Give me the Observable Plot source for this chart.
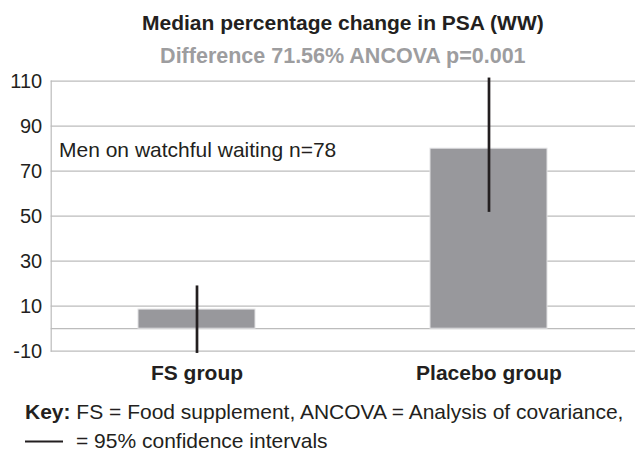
<!DOCTYPE html>
<html>
<head>
<meta charset="utf-8">
<script src="https://cdn.jsdelivr.net/npm/d3@7"></script>
<script src="https://cdn.jsdelivr.net/npm/@observablehq/plot@0.6"></script>
<style>
  html, body { margin: 0; padding: 0; background: #fff; }
  #chart svg { display: block; }
</style>
</head>
<body>
<div id="chart"></div>
<script>
// Data
const groups = ["FS group", "Placebo group"];
const medians = [8.5, 80];
const ciLow = [-11, 51.7];
const ciHigh = [19, 111.4];
const yTicks = [-10, 10, 30, 50, 70, 90, 110];
const gridLines = [-10, 0, 10, 30, 50, 70, 90, 110];

const titleText = "Median percentage change in PSA (WW)";
const subtitleText = "Difference 71.56% ANCOVA p=0.001";
const noteText = "Men on watchful waiting n=78";
const keyBold = "Key:";
const keyText = " FS = Food supplement, ANCOVA = Analysis of covariance,";
const keyLine2 = "= 95% confidence intervals";

const data = groups.map((g, i) => ({group: g, value: medians[i], lo: ciLow[i], hi: ciHigh[i]}));

const FONT = "'Liberation Sans', Arial, Helvetica, sans-serif";
const INK = "#231f20";
const GRID = "#bcbcbc";

const svg = Plot.plot({
  width: 636,
  height: 452,
  marginTop: 80.7,
  marginBottom: 101.3,
  marginLeft: 50.7,
  marginRight: 1,
  style: {fontFamily: FONT, fontSize: "20px", color: INK, background: "#fff"},
  x: {domain: groups, paddingInner: 0.6, paddingOuter: 0.3, label: null},
  y: {domain: [-10, 110], label: null},
  marks: [
    Plot.ruleY(gridLines, {stroke: GRID, strokeWidth: 1.2}),
    Plot.frame({anchor: "left", stroke: GRID, strokeWidth: 1.2}),
    Plot.barY(data, {x: "group", y: "value", fill: "#98989c", stroke: "#e2e2e4", strokeWidth: 1}),
    Plot.ruleX(data, {x: "group", y1: "lo", y2: "hi", stroke: INK, strokeWidth: 2.7}),
    Plot.axisY({ticks: yTicks, tickFormat: d => String(d), tickSize: 0, tickPadding: 9, fontSize: 20, fill: INK}),
    Plot.axisX({tickSize: 0, tickPadding: 14, fontSize: 21, fontWeight: "bold", fill: INK})
  ]
});

document.getElementById("chart").appendChild(svg);

const s = d3.select(svg);
const cx = (50.7 + 635) / 2;

s.append("text")
  .attr("x", cx).attr("y", 29.5)
  .attr("text-anchor", "middle")
  .style("font-family", FONT).style("font-size", "21px").style("font-weight", "bold")
  .attr("fill", INK)
  .text(titleText);

s.append("text")
  .attr("x", cx).attr("y", 62.5)
  .attr("text-anchor", "middle")
  .style("font-family", FONT).style("font-size", "21.5px").style("font-weight", "bold")
  .attr("fill", "#9d9d9f")
  .text(subtitleText);

s.append("text")
  .attr("x", 59).attr("y", 156.7)
  .attr("text-anchor", "start")
  .style("font-family", FONT).style("font-size", "21px")
  .attr("fill", INK)
  .text(noteText);

const key = s.append("text")
  .attr("x", 25).attr("y", 419)
  .attr("text-anchor", "start")
  .style("font-family", FONT).style("font-size", "21px")
  .attr("fill", INK);
key.append("tspan").style("font-weight", "bold").text(keyBold);
key.append("tspan").text(keyText);

s.append("line")
  .attr("x1", 25).attr("x2", 63).attr("y1", 441.5).attr("y2", 441.5)
  .attr("stroke", INK).attr("stroke-width", 2.2);

s.append("text")
  .attr("x", 76).attr("y", 447.5)
  .attr("text-anchor", "start")
  .style("font-family", FONT).style("font-size", "21px")
  .attr("fill", INK)
  .text(keyLine2);
</script>
</body>
</html>
